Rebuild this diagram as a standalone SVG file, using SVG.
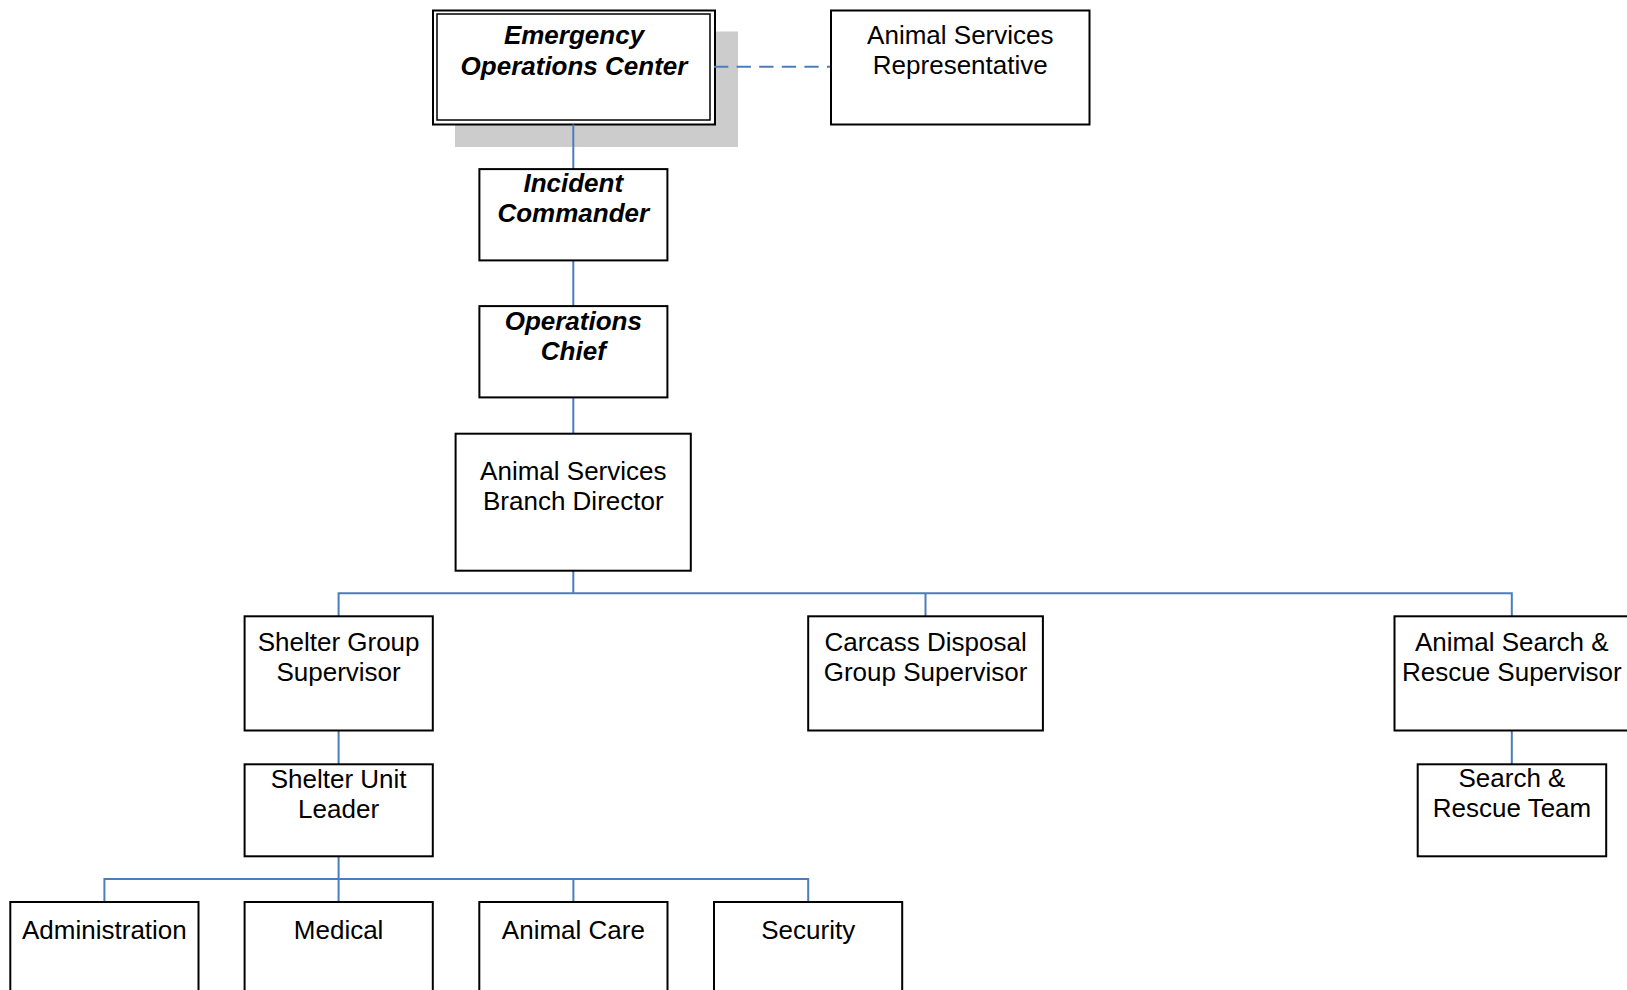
<svg xmlns="http://www.w3.org/2000/svg" width="1627" height="990" viewBox="0 0 1627 990">
<style>
.box{fill:#ffffff;stroke:#000000;stroke-width:2}
.t{font-family:"Liberation Sans",Arial,sans-serif;font-size:26px;fill:#000000;text-anchor:middle}
.bi{font-weight:bold;font-style:italic}
.c{fill:none;stroke:#4a7ebb;stroke-width:2}
.d{stroke-dasharray:14.3 8.3}
</style>
<rect width="1627" height="990" fill="#ffffff"/>
<g id="eoc">
<rect x="455" y="31.5" width="283" height="115.5" fill="#cccccc"/>
<rect class="box" x="433" y="10.5" width="282" height="114"/>
<rect fill="none" stroke="#000" stroke-width="1.5" x="437" y="14" width="273" height="106"/>
<text class="t bi" x="574" y="43.5">Emergency</text>
<text class="t bi" x="574" y="74.5">Operations Center</text>
</g>
<g id="connectors">
<path class="c" d="M573.3,124.5V169.1M573.3,260.4V306.1M573.3,397.4V433.7M573.3,570.7V593.3M338.6,616.3V593.3H1511.8V616.3M925.5,593.3V616.3M338.6,730.5V764.3M338.6,856.3V879M104.4,902V879H808.2V902M338.6,879V902M573.4,879V902M1511.8,730.5V764.3"/>
<path class="c d" d="M714,66.7H831"/>
</g>
<g id="asr">
<rect class="box" x="831" y="10.5" width="258.5" height="114"/>
<text class="t" x="960.3" y="43.5">Animal Services</text>
<text class="t" x="960.3" y="73.5">Representative</text>
</g>
<g id="ic">
<rect class="box" x="479.4" y="169.1" width="188" height="91.3"/>
<text class="t bi" x="573.3" y="192">Incident</text>
<text class="t bi" x="573.3" y="222">Commander</text>
</g>
<g id="oc">
<rect class="box" x="479.4" y="306.1" width="188" height="91.3"/>
<text class="t bi" x="573.3" y="329.5">Operations</text>
<text class="t bi" x="573.3" y="359.5">Chief</text>
</g>
<g id="bd">
<rect class="box" x="455.6" y="433.7" width="235.2" height="137"/>
<text class="t" x="573.3" y="479.5">Animal Services</text>
<text class="t" x="573.3" y="509.5">Branch Director</text>
</g>
<g id="sgs">
<rect class="box" x="244.6" y="616.3" width="188.2" height="114.2"/>
<text class="t" x="338.6" y="650.5">Shelter Group</text>
<text class="t" x="338.6" y="680.5">Supervisor</text>
</g>
<g id="cdgs">
<rect class="box" x="808.2" y="616.3" width="234.7" height="114.2"/>
<text class="t" x="925.6" y="650.5">Carcass Disposal</text>
<text class="t" x="925.6" y="680.5">Group Supervisor</text>
</g>
<g id="asrs">
<rect class="box" x="1394.5" y="616.3" width="234.6" height="114.2"/>
<text class="t" x="1511.8" y="650.5">Animal Search &amp;</text>
<text class="t" x="1511.8" y="680.5">Rescue Supervisor</text>
</g>
<g id="sul">
<rect class="box" x="244.6" y="764.3" width="188.2" height="92"/>
<text class="t" x="338.6" y="787.5">Shelter Unit</text>
<text class="t" x="338.6" y="817.5">Leader</text>
</g>
<g id="srt">
<rect class="box" x="1417.7" y="764.3" width="188.5" height="92"/>
<text class="t" x="1512" y="786.5">Search &amp;</text>
<text class="t" x="1512" y="816.5">Rescue Team</text>
</g>
<g id="admin">
<rect class="box" x="10.3" y="902" width="188.2" height="100"/>
<text class="t" x="104.4" y="939">Administration</text>
</g>
<g id="medical">
<rect class="box" x="244.6" y="902" width="188.2" height="100"/>
<text class="t" x="338.6" y="939">Medical</text>
</g>
<g id="animalcare">
<rect class="box" x="479.3" y="902" width="188.2" height="100"/>
<text class="t" x="573.4" y="939">Animal Care</text>
</g>
<g id="security">
<rect class="box" x="714" y="902" width="188.2" height="100"/>
<text class="t" x="808.2" y="939">Security</text>
</g>
</svg>
